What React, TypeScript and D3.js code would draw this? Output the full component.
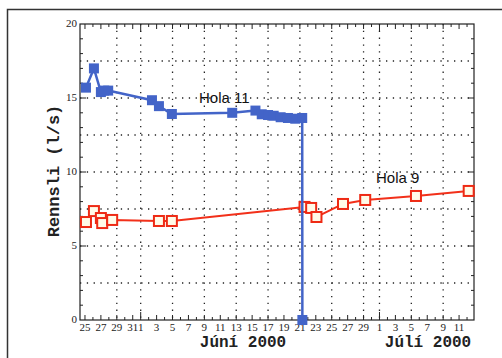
import { useMemo } from "react";
import * as d3 from "d3";

const W = 502;
const H = 358;
const PLOT = { left: 80, right: 474, top: 24, bottom: 320 };

// x domain (local time)
const X_START = "2000-05-24T09:00";
const X_END = "2000-07-12T21:00";
const Y_MAX = 20;

// Hola 11 (blue, filled squares)
const hola11Dates = [
    "2000-05-25T03:00", "2000-05-26T03:00", "2000-05-27T00:00", "2000-05-27T10:00",
    "2000-05-27T22:00", "2000-06-02T10:00", "2000-06-03T07:00", "2000-06-04T22:00",
    "2000-06-12T12:00", "2000-06-15T10:00", "2000-06-16T05:00", "2000-06-17T00:00",
    "2000-06-17T17:00", "2000-06-18T14:00", "2000-06-19T12:00", "2000-06-20T10:00",
    "2000-06-21T07:00", "2000-06-21T07:30",
];
const hola11Values = [
    15.7, 17.0, 15.4, 15.5, 15.5, 14.85, 14.45, 13.92,
    14.0, 14.15, 13.9, 13.85, 13.8, 13.7, 13.65, 13.6,
    13.65, 0,
];

// Hola 9 (red, open squares)
const hola9Dates = [
    "2000-05-25T03:00", "2000-05-26T03:00", "2000-05-27T00:00", "2000-05-27T04:00",
    "2000-05-28T10:00", "2000-06-03T07:00", "2000-06-04T22:00", "2000-06-21T14:00",
    "2000-06-22T10:00", "2000-06-23T02:00", "2000-06-26T10:00", "2000-06-29T05:00",
    "2000-07-05T14:00", "2000-07-12T05:00",
];
const hola9Values = [
    6.62, 7.36, 6.89, 6.55, 6.76, 6.69, 6.69, 7.64,
    7.57, 6.96, 7.84, 8.11, 8.38, 8.72,
];

const yTickLabels = [0, 5, 10, 15, 20];
const monthLabels = [
    { text: "Júní 2000", x: 243 },
    { text: "Júlí 2000", x: 428 },
];

const parse = (s: string) => new Date(s);

export default function App() {
    const xScale = useMemo(
        () => d3.scaleTime().domain([parse(X_START), parse(X_END)]).range([PLOT.left, PLOT.right]),
        []
    );
    const yScale = useMemo(
        () => d3.scaleLinear().domain([0, Y_MAX]).range([PLOT.bottom, PLOT.top]),
        []
    );

    const days = d3.timeDay.range(parse(X_START), parse(X_END));
    // dotted grid on days 1, 5, 9, ... of each month (not the one hugging the axis)
    const gridDays = days.filter((d) => d.getDate() % 4 === 1 && xScale(d) > PLOT.left + 10);
    const minorY = d3.range(1, Y_MAX);
    const gridY = d3.range(2.5, Y_MAX, 2.5);

    const line = d3
        .line<[Date, number]>()
        .x((d) => xScale(d[0]))
        .y((d) => yScale(d[1]));

    const h11: [Date, number][] = hola11Dates.map((d, i) => [parse(d), hola11Values[i]]);
    const h9: [Date, number][] = hola9Dates.map((d, i) => [parse(d), hola9Values[i]]);

    const tickLen = (d: Date) => (d.getDate() === 1 ? 8 : d.getDate() % 2 === 1 ? 5 : 3);

    return (
        <div style={{ position: "absolute", left: 0, top: 0 }}>
            <svg width={W} height={H} style={{ display: "block", background: "white" }}>
                {/* outer frame */}
                <rect x={7.5} y={9.5} width={W} height={H} fill="none" stroke="#333" strokeWidth={1.5} />

                {/* dotted grid */}
                <g stroke="#222" strokeWidth={1.3} strokeDasharray="1.3,5.5">
                    {gridY.map((v) => (
                        <line key={v} x1={PLOT.left} x2={PLOT.right} y1={yScale(v)} y2={yScale(v)} />
                    ))}
                    {gridDays.map((d) => (
                        <line key={+d} x1={xScale(d)} x2={xScale(d)} y1={PLOT.top} y2={PLOT.bottom} />
                    ))}
                </g>

                {/* plot box */}
                <rect
                    x={PLOT.left}
                    y={PLOT.top}
                    width={PLOT.right - PLOT.left}
                    height={PLOT.bottom - PLOT.top}
                    fill="none"
                    stroke="#222"
                    strokeWidth={1.2}
                />

                {/* inward ticks on all four sides */}
                <g stroke="#222" strokeWidth={1}>
                    {days.map((d) => (
                        <g key={+d}>
                            <line x1={xScale(d)} x2={xScale(d)} y1={PLOT.bottom} y2={PLOT.bottom - tickLen(d)} />
                            <line x1={xScale(d)} x2={xScale(d)} y1={PLOT.top} y2={PLOT.top + tickLen(d)} />
                        </g>
                    ))}
                    {minorY.map((v) => {
                        const l = v % 5 === 0 ? 6 : 3;
                        return (
                            <g key={v}>
                                <line x1={PLOT.left} x2={PLOT.left + l} y1={yScale(v)} y2={yScale(v)} />
                                <line x1={PLOT.right} x2={PLOT.right - l} y1={yScale(v)} y2={yScale(v)} />
                            </g>
                        );
                    })}
                </g>

                {/* x tick labels */}
                <g fontFamily="Liberation Serif" fontSize={11} fill="#222" textAnchor="middle">
                    {days
                        .filter((d) => d.getDate() % 2 === 1)
                        .map((d) => (
                            <text key={+d} x={xScale(d)} y={331}>
                                {d.getDate()}
                            </text>
                        ))}
                </g>

                {/* y tick labels */}
                <g fontFamily="Liberation Serif" fontSize={11} fill="#222" textAnchor="end">
                    {yTickLabels.map((v) => (
                        <text key={v} x={PLOT.left - 3} y={yScale(v) + 3}>
                            {v}
                        </text>
                    ))}
                </g>

                {/* axis titles */}
                <g fontFamily="Liberation Mono" fontWeight="bold" fill="#222">
                    {monthLabels.map((m) => (
                        <text key={m.text} x={m.x} y={347} fontSize={16} textAnchor="middle">
                            {m.text}
                        </text>
                    ))}
                    <text transform="translate(59,171) rotate(-90)" fontSize={17} textAnchor="middle">
                        Rennsli (l/s)
                    </text>
                </g>

                {/* Hola 9 */}
                <path d={line(h9) ?? ""} fill="none" stroke="#f2301a" strokeWidth={2} />
                {h9.map((d, i) => (
                    <rect
                        key={i}
                        x={xScale(d[0]) - 5}
                        y={yScale(d[1]) - 5}
                        width={10}
                        height={10}
                        fill="#fffbe8"
                        stroke="#ee2a14"
                        strokeWidth={2}
                    />
                ))}

                {/* Hola 11 */}
                <path d={line(h11) ?? ""} fill="none" stroke="#4364c8" strokeWidth={2.5} />
                {h11.map((d, i) => (
                    <rect
                        key={i}
                        x={xScale(d[0]) - 5}
                        y={yScale(d[1]) - 5}
                        width={10}
                        height={10}
                        fill="#4364c8"
                    />
                ))}

                {/* series labels */}
                <g fontFamily="Liberation Sans" fontSize={15} fill="#111">
                    <text x={199} y={103}>Hola 11</text>
                    <text x={376} y={183}>Hola 9</text>
                </g>
            </svg>
        </div>
    );
}
